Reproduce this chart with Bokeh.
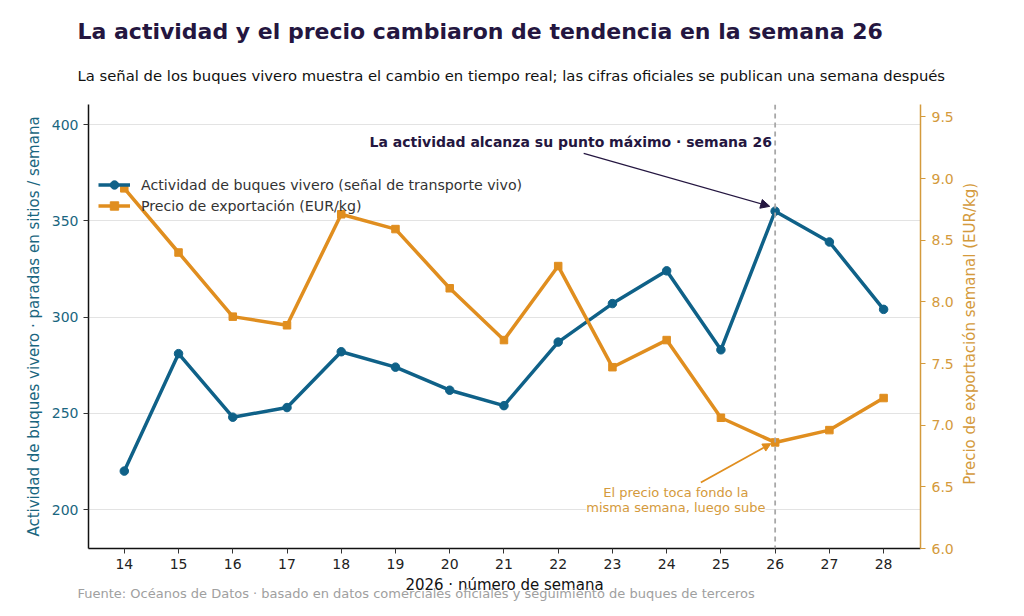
import math
from bokeh.plotting import figure
from bokeh.layouts import row
from bokeh.models import (Range1d, LinearAxis, Span, Label, Arrow, NormalHead, Legend,
                          LegendItem, FixedTicker, ColumnDataSource, Title,
                          NumeralTickFormatter)
from bokeh.core.properties import value
from bokeh.embed import file_html
from bokeh.resources import INLINE

weeks = [14, 15, 16, 17, 18, 19, 20, 21, 22, 23, 24, 25, 26, 27, 28]
activity = [220, 281, 248, 253, 282, 274, 262, 254, 287, 307, 324, 283, 355, 339, 304]
price = [8.92, 8.40, 7.88, 7.81, 8.71, 8.59, 8.11, 7.69, 8.29, 7.47, 7.69, 7.06, 6.86, 6.96, 7.22]
left_ticks = [200, 250, 300, 350, 400]
right_ticks = [6.0, 6.5, 7.0, 7.5, 8.0, 8.5, 9.0, 9.5]
right_label = "Precio de exportación semanal (EUR/kg)"

BLUE = "#0f6188"
ORANGE = "#e08e1f"
ORANGE_TXT = "#d49a3c"
TEAL_TXT = "#1a6680"
DARK = "#241640"
FONT = "DejaVu Sans"

FL, FT, FR, FB = 88, 104, 920, 548
W, H = FR + 40, 606
FH = FB - FT

p = figure(width=W, height=H, output_backend="svg", toolbar_location=None,
           x_range=Range1d(13.34, 28.68), y_range=Range1d(179.8, 410.4),
           min_border_left=FL, min_border_top=FT, min_border_right=W - FR,
           min_border_bottom=H - FB)
p.outline_line_color = None
p.background_fill_color = "white"
p.border_fill_color = "white"
p.extra_y_ranges = {"price": Range1d(6.0, 9.6)}

# axes
p.xaxis.ticker = FixedTicker(ticks=weeks)
p.xaxis.axis_label = "2026 · número de semana"
p.xaxis.axis_label_text_font = FONT
p.xaxis.axis_label_text_font_style = "normal"
p.xaxis.axis_label_text_font_size = "15px"
p.xaxis.axis_label_text_color = "#111111"
p.xaxis.axis_label_standoff = 4
p.xaxis.major_label_text_font = FONT
p.xaxis.major_label_text_font_size = "14px"
p.xaxis.major_label_text_color = "#222222"
p.xaxis.axis_line_color = "#111111"
p.xaxis.axis_line_width = 1.5
p.xaxis.major_tick_line_color = "#333333"
p.xaxis.major_tick_in = 0
p.xaxis.major_tick_out = 5
p.xaxis.minor_tick_line_color = None

p.yaxis.ticker = FixedTicker(ticks=left_ticks)
p.yaxis.axis_label = "Actividad de buques vivero · paradas en sitios / semana"
p.yaxis.axis_label_text_font = FONT
p.yaxis.axis_label_text_font_style = "normal"
p.yaxis.axis_label_text_font_size = "15px"
p.yaxis.axis_label_text_color = TEAL_TXT
p.yaxis.axis_label_standoff = 6
p.yaxis.major_label_text_font = FONT
p.yaxis.major_label_text_font_size = "14px"
p.yaxis.major_label_text_color = TEAL_TXT
p.yaxis.axis_line_color = "#111111"
p.yaxis.axis_line_width = 1.5
p.yaxis.major_tick_line_color = "#333333"
p.yaxis.major_tick_in = 0
p.yaxis.major_tick_out = 5
p.yaxis.minor_tick_line_color = None

ax2 = LinearAxis(y_range_name="price", ticker=FixedTicker(ticks=right_ticks),
                 formatter=NumeralTickFormatter(format="0.0"))
ax2.major_label_text_font = FONT
ax2.major_label_text_font_size = "14px"
ax2.major_label_text_color = ORANGE_TXT
ax2.major_label_standoff = 6
ax2.axis_line_color = ORANGE_TXT
ax2.axis_line_width = 1.5
ax2.major_tick_line_color = ORANGE_TXT
ax2.major_tick_in = 0
ax2.major_tick_out = 5
ax2.minor_tick_line_color = None
p.add_layout(ax2, "right")

p.xgrid.grid_line_color = None
p.ygrid.grid_line_color = "#e3e3e3"
p.ygrid.grid_line_width = 1

# vertical marker at week 26
p.add_layout(Span(location=26, dimension="height", line_color="#a8a8a8",
                  line_dash="5 4", line_width=1.8))

src = ColumnDataSource(dict(week=weeks, activity=activity, price=price))
l1 = p.line("week", "activity", source=src, line_color=BLUE, line_width=3.5)
m1 = p.scatter("week", "activity", source=src, marker="circle", size=8.5,
               fill_color=BLUE, line_color=BLUE)
l2 = p.line("week", "price", source=src, y_range_name="price", line_color=ORANGE,
            line_width=3.5)
m2 = p.scatter("week", "price", source=src, y_range_name="price", marker="square",
               size=7.5, fill_color=ORANGE, line_color=ORANGE)

legend = Legend(items=[
    LegendItem(label="Actividad de buques vivero (señal de transporte vivo)", renderers=[l1, m1]),
    LegendItem(label="Precio de exportación (EUR/kg)", renderers=[l2, m2]),
], location=(10, FH - 112))
legend.border_line_color = None
legend.background_fill_alpha = 0
legend.label_text_font = FONT
legend.label_text_font_size = "14.2px"
legend.label_text_color = "#333333"
legend.glyph_width = 32
legend.glyph_height = 21
legend.label_height = 21
legend.spacing = 0
legend.padding = 0
legend.margin = 0
legend.label_standoff = 11
p.add_layout(legend)

# annotation: activity peak
p.add_layout(Label(x=25.94, y=391, text="La actividad alcanza su punto máximo · semana 26",
                   text_align="right", text_baseline="middle", text_font=FONT,
                   text_font_style="bold", text_font_size="14px", text_color=DARK))
p.add_layout(Arrow(x_start=22.47, y_start=385, x_end=25.9, y_end=357.5,
                   line_color=DARK, line_width=1.2,
                   end=NormalHead(size=9, fill_color=DARK, line_color=DARK)))

# annotation: price bottom
p.add_layout(Label(x=24.17, y=6.39, y_range_name="price",
                   text="El precio toca fondo la\nmisma semana, luego sube",
                   text_align="center", text_baseline="middle", text_font=FONT,
                   text_font_size="13px", text_color=ORANGE_TXT,
                   background_fill_color="white", text_line_height=1.0))
p.add_layout(Arrow(x_start=24.63, y_start=6.535, x_end=25.92, y_end=6.85,
                   y_range_name="price", line_color=ORANGE, line_width=1.8,
                   end=NormalHead(size=8, fill_color=ORANGE, line_color=ORANGE)))

# subtitle (closest to frame) then title
p.add_layout(Title(text="La señal de los buques vivero muestra el cambio en tiempo real; las cifras oficiales se publican una semana después",
                   align="left", offset=-11, standoff=42, text_font=FONT,
                   text_font_style="normal", text_font_size="14.8px",
                   text_color="#111111"), "above")
p.add_layout(Title(text="La actividad y el precio cambiaron de tendencia en la semana 26",
                   align="left", offset=-11, standoff=0, text_font=FONT,
                   text_font_style="bold", text_font_size="22px",
                   text_color=DARK), "above")
# footer
p.add_layout(Title(text="Fuente: Océanos de Datos ·  basado en datos comerciales oficiales y seguimiento de buques de terceros",
                   align="left", offset=-11, standoff=-21, vertical_align="top",
                   text_font=FONT, text_font_style="normal", text_font_size="13px",
                   text_color="#a0a0a0"), "below")

# right axis title in a narrow strip, reading bottom-to-top
SW = 30
p2 = figure(width=SW, height=H, output_backend="svg", toolbar_location=None,
            x_range=Range1d(0, SW), y_range=Range1d(0, H),
            min_border=0, min_border_left=0, min_border_right=0,
            min_border_top=0, min_border_bottom=0)
p2.axis.visible = False
p2.grid.visible = False
p2.outline_line_color = None
p2.background_fill_color = "white"
p2.border_fill_color = "white"
p2.text(x=[9], y=[H - 313], text=[right_label], angle=math.pi / 2,
        text_align="center", text_baseline="middle", text_font=value(FONT),
        text_font_size="15px", text_color=ORANGE_TXT)

layout = row(p, p2, spacing=0)
open("out.html", "w").write(file_html(layout, INLINE))
